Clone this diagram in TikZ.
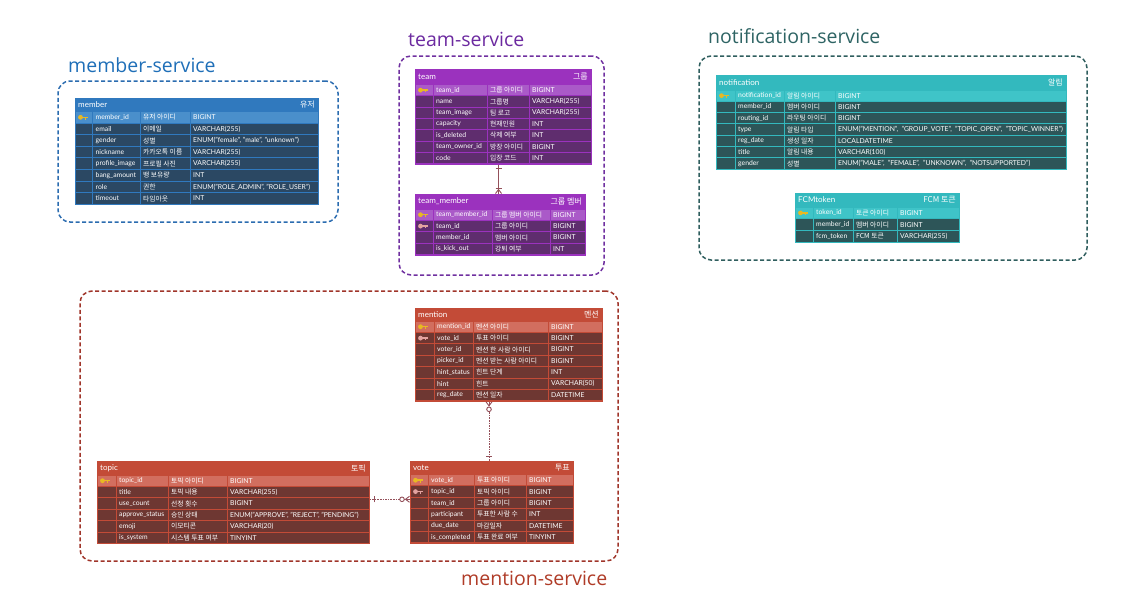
\documentclass[tikz,border=0pt]{standalone}
\usepackage{fontspec}
\setmainfont{Lato}
\newfontfamily\kr{Noto Sans CJK KR}
\newfontfamily\lbl{Open Sans}
\usetikzlibrary{calc}

\definecolor{cMember}{HTML}{2B6CB0}
\definecolor{cTeam}{HTML}{7030A0}
\definecolor{cNoti}{HTML}{2F5E5E}
\definecolor{cMention}{HTML}{A0352A}
\definecolor{lMember}{HTML}{1F6FB8}
\definecolor{lTeam}{HTML}{6C2AA0}
\definecolor{lNoti}{HTML}{2E6464}
\definecolor{lMention}{HTML}{B03C28}
\definecolor{relc}{HTML}{94505A}
\definecolor{keygold}{HTML}{E8B923}
\definecolor{keypink}{HTML}{E3A3A0}
\definecolor{tHead}{HTML}{3079BE}
\definecolor{tKey}{HTML}{4A8FCB}
\definecolor{tBody}{HTML}{2B4863}

\def\pkword{pk}
\def\fkword{fk}
\newcommand\tsetup[9]{\def\tXa{#1}\def\tXb{#2}\def\tXc{#3}\def\tXd{#4}\def\tXe{#5}\def\tY{#6}\def\tH{#7}\def\tRH{#8}\def\tN{#9}}
\newcommand\tcolors[3]{\definecolor{tHead}{HTML}{#1}\definecolor{tKey}{HTML}{#2}\definecolor{tBody}{HTML}{#3}}
\newcommand\tframe[3]{%
  \pgfmathsetmacro\tW{\tXe-\tXa+1}%
  \pgfmathsetmacro\tHt{\tH+\tN*\tRH+1}%
  \node[name=#1, fill=tHead, minimum width=\tW pt, minimum height=\tHt pt, inner sep=0pt, outer sep=0pt, anchor=north west] at (\tXa-0.5,\tY) {};
  \node[name=#1-title, htext, anchor=west] at (\tXa+3,\tY+\tH/2) {#2};
  \node[name=#1-ktitle, htext, anchor=east] at (\tXe-3,\tY+\tH/2) {\kr #3};
}
\newcommand\keyicon[1]{%
  \fill[#1] (\tXa+5.5,\ym) circle (2.4pt);
  \fill[#1] (\tXa+7,\ym-0.75) rectangle (\tXa+12.5,\ym+0.75);
  \fill[#1] (\tXa+10.2,\ym) rectangle (\tXa+11.4,\ym+2.3);
}
\newcommand\trow[6]{%
  \pgfmathsetmacro\ya{\tY+\tH+#2*\tRH}%
  \pgfmathsetmacro\yb{\ya+\tRH}%
  \pgfmathsetmacro\ym{\ya+\tRH/2}%
  \def\tmpicon{#3}%
  \ifx\tmpicon\pkword\colorlet{rowc}{tKey}\else\colorlet{rowc}{tBody}\fi
  \fill[rowc] (\tXa+0.5,\ya+0.5) rectangle (\tXb-0.5,\yb-0.5);
  \fill[rowc] (\tXb+0.5,\ya+0.5) rectangle (\tXc-0.5,\yb-0.5);
  \fill[rowc] (\tXc+0.5,\ya+0.5) rectangle (\tXd-0.5,\yb-0.5);
  \fill[rowc] (\tXd+0.5,\ya+0.5) rectangle (\tXe-0.5,\yb-0.5);
  \ifx\tmpicon\pkword\keyicon{keygold}\fi
  \ifx\tmpicon\fkword\keyicon{keypink}\fi
  \node[ctext, name=#1-r#2-a] at (\tXb+3,\ym) {#4};
  \node[ctext, name=#1-r#2-b] at (\tXc+3,\ym) {\kr #5};
  \node[ctext, name=#1-r#2-c] at (\tXd+3,\ym) {#6};
}

\tikzset{
  htext/.style={text=white, font=\fontsize{8}{9}\selectfont, inner sep=0pt},
  ctext/.style={text=white, font=\fontsize{6.8}{7.5}\selectfont, inner sep=0pt, anchor=west},
  grpbox/.style={line width=1.5pt, dash pattern=on 4pt off 2.5pt, rounded corners=12pt, inner sep=0pt, outer sep=0pt, anchor=north west},
  grplabel/.style={font=\lbl\fontsize{19.5}{21}\selectfont, inner sep=0pt, anchor=base west},
  rel/.style={draw=relc, line width=0.9pt},
  reldash/.style={rel, dash pattern=on 1.6pt off 1pt},
}

\begin{document}
\begin{tikzpicture}[x=1pt,y=-1pt]
\useasboundingbox (0,0) rectangle (1136,611);
\fill[white] (0,0) rectangle (1136,611);

% group boxes
\node[name=gMember, grpbox, draw=cMember, minimum width=280pt, minimum height=141pt] at (58,81) {};
\node[name=gTeam, grpbox, draw=cTeam, minimum width=205pt, minimum height=219pt] at (399,56) {};
\node[name=gNoti, grpbox, draw=cNoti, minimum width=388pt, minimum height=204pt] at (699,56) {};
\node[name=gMention, grpbox, draw=cMention, minimum width=538pt, minimum height=270pt] at (80,291) {};

\node[name=lblMember, grplabel, text=lMember] at (68,72) {member-service};
\node[name=lblTeam, grplabel, text=lTeam] at (408,46) {team-service};
\node[name=lblNoti, grplabel, text=lNoti] at (708,43) {notification-service};
\node[name=lblMention, grplabel, text=lMention] at (461,585) {mention-service};

% member
\tcolors{3079BE}{4A8FCB}{2B4863}
\tsetup{75}{92.5}{140}{190}{318}{98}{13.5}{11.6}{8}
\tframe{member}{member}{유저}
\trow{member}{0}{pk}{member\_id}{유저 아이디}{BIGINT}
\trow{member}{1}{}{email}{이메일}{VARCHAR(255)}
\trow{member}{2}{}{gender}{성별}{ENUM("female", "male", "unknown")}
\trow{member}{3}{}{nickname}{카카오톡 이름}{VARCHAR(255)}
\trow{member}{4}{}{profile\_image}{프로필 사진}{VARCHAR(255)}
\trow{member}{5}{}{bang\_amount}{뱅 보유량}{INT}
\trow{member}{6}{}{role}{권한}{ENUM("ROLE\_ADMIN", "ROLE\_USER")}
\trow{member}{7}{}{timeout}{타임아웃}{INT}

% team
\tcolors{9B32BE}{AA5AC8}{5F2D6E}
\tsetup{415}{433}{487}{529}{591}{69}{15.5}{11.3}{7}
\tframe{team}{team}{그룹}
\trow{team}{0}{pk}{team\_id}{그룹 아이디}{BIGINT}
\trow{team}{1}{}{name}{그룹명}{VARCHAR(255)}
\trow{team}{2}{}{team\_image}{팀 로고}{VARCHAR(255)}
\trow{team}{3}{}{capacity}{현재인원}{INT}
\trow{team}{4}{}{is\_deleted}{삭제 여부}{INT}
\trow{team}{5}{}{team\_owner\_id}{방장 아이디}{BIGINT}
\trow{team}{6}{}{code}{입장 코드}{INT}

% team_member
\tsetup{415}{433}{492}{550}{585}{193.5}{15.5}{11.4}{4}
\tframe{team_member}{team\_member}{그룹 멤버}
\trow{team_member}{0}{pk}{team\_member\_id}{그룹 멤버 아이디}{BIGINT}
\trow{team_member}{1}{fk}{team\_id}{그룹 아이디}{BIGINT}
\trow{team_member}{2}{}{member\_id}{멤버 아이디}{BIGINT}
\trow{team_member}{3}{}{is\_kick\_out}{강퇴 여부}{INT}

% notification
\tcolors{33B9BE}{3FC4C8}{2D5558}
\tsetup{716}{735}{784}{835}{1066}{75}{15}{11.3}{7}
\tframe{notification}{notification}{알림}
\trow{notification}{0}{pk}{notification\_id}{알림 아이디}{BIGINT}
\trow{notification}{1}{}{member\_id}{멤버 아이디}{BIGINT}
\trow{notification}{2}{}{routing\_id}{라우팅 아이디}{BIGINT}
\trow{notification}{3}{}{type}{알림 타입}{ENUM("MENTION",\kern1.5pt{} "GROUP\_VOTE",\kern1.5pt{} "TOPIC\_OPEN",\kern1.5pt{} "TOPIC\_WINNER")}
\trow{notification}{4}{}{reg\_date}{생성 일자}{LOCALDATETIME}
\trow{notification}{5}{}{title}{알림 내용}{VARCHAR(100)}
\trow{notification}{6}{}{gender}{성별}{ENUM("MALE",\kern1.5pt{} "FEMALE",\kern1.5pt{} "UNKNOWN",\kern1.5pt{} "NOTSUPPORTED")}

% FCMtoken
\tsetup{795}{813}{853}{897}{959}{193}{14}{11.8}{3}
\tframe{fcmtoken}{FCMtoken}{FCM 토큰}
\trow{fcmtoken}{0}{pk}{token\_id}{토큰 아이디}{BIGINT}
\trow{fcmtoken}{1}{}{member\_id}{멤버 아이디}{BIGINT}
\trow{fcmtoken}{2}{}{fcm\_token}{FCM 토큰}{VARCHAR(255)}

% mention
\tcolors{C34B37}{D26E5F}{6E3732}
\tsetup{415}{434}{473}{548}{602}{308}{13}{11.4}{7}
\tframe{mention}{mention}{멘션}
\trow{mention}{0}{pk}{mention\_id}{멘션 아이디}{BIGINT}
\trow{mention}{1}{fk}{vote\_id}{투표 아이디}{BIGINT}
\trow{mention}{2}{}{voter\_id}{멘션 한 사람 아이디}{BIGINT}
\trow{mention}{3}{}{picker\_id}{멘션 받는 사람 아이디}{BIGINT}
\trow{mention}{4}{}{hint\_status}{힌트 단계}{INT}
\trow{mention}{5}{}{hint}{힌트}{VARCHAR(50)}
\trow{mention}{6}{}{reg\_date}{멘션 일자}{DATETIME}

% topic
\tsetup{97}{116}{168}{227}{369}{461}{14}{11.4}{6}
\tframe{topic}{topic}{토픽}
\trow{topic}{0}{pk}{topic\_id}{토픽 아이디}{BIGINT}
\trow{topic}{1}{}{title}{토픽 내용}{VARCHAR(255)}
\trow{topic}{2}{}{use\_count}{선정 횟수}{BIGINT}
\trow{topic}{3}{}{approve\_status}{승인 상태}{ENUM("APPROVE", "REJECT", "PENDING")}
\trow{topic}{4}{}{emoji}{이모티콘}{VARCHAR(20)}
\trow{topic}{5}{}{is\_system}{시스템 투표 여부}{TINYINT}

% vote
\tsetup{410}{428}{474}{526}{573}{461}{13.5}{11.4}{6}
\tframe{vote}{vote}{투표}
\trow{vote}{0}{pk}{vote\_id}{투표 아이디}{BIGINT}
\trow{vote}{1}{fk}{topic\_id}{토픽 아이디}{BIGINT}
\trow{vote}{2}{}{team\_id}{그룹 아이디}{BIGINT}
\trow{vote}{3}{}{participant}{투표한 사람 수}{INT}
\trow{vote}{4}{}{due\_date}{마감일자}{DATETIME}
\trow{vote}{5}{}{is\_completed}{투표 완료 여부}{TINYINT}

% connectors
% team -> team_member
\draw[rel] ([xshift=84pt]team.south west) coordinate (tA) -- ([xshift=84pt]team_member.north west) coordinate (tB);
\draw[rel] ([xshift=-3pt,yshift=-4pt]tA) -- ([xshift=3pt,yshift=-4pt]tA);
\draw[rel] ([xshift=-3pt,yshift=5pt]tB) -- ([xshift=3pt,yshift=5pt]tB);
\draw[rel] ([xshift=-3pt]tB) -- ([yshift=4pt]tB) -- ([xshift=3pt]tB);

% mention -> vote
\draw[reldash] ([xshift=74.5pt]mention.south west) coordinate (mA) -- ([xshift=79.5pt]vote.north west) coordinate (vA);
\draw[rel] ([xshift=-3pt]mA) -- ([yshift=-4pt]mA) -- ([xshift=3pt]mA);
\draw[rel] ([yshift=-4pt]mA) -- (mA);
\draw[rel, fill=white] ([yshift=-7.5pt]mA) circle (2.3pt);
\draw[rel] ([xshift=-3pt,yshift=5pt]vA) -- ([xshift=3pt,yshift=5pt]vA);

% topic -> vote
\draw[reldash] ([yshift=-38.3pt]topic.north east) coordinate (pA) -- ([yshift=-38.3pt]vote.north west) coordinate (vB);
\draw[rel] ([xshift=5pt,yshift=-3pt]pA) -- ([xshift=5pt,yshift=3pt]pA);
\draw[rel] ([yshift=3pt]vB) -- ([xshift=-4pt]vB) -- ([yshift=-3pt]vB);
\draw[rel] ([xshift=-4pt]vB) -- (vB);
\draw[rel, fill=white] ([xshift=-7.5pt]vB) circle (2.3pt);
\end{tikzpicture}
\end{document}
